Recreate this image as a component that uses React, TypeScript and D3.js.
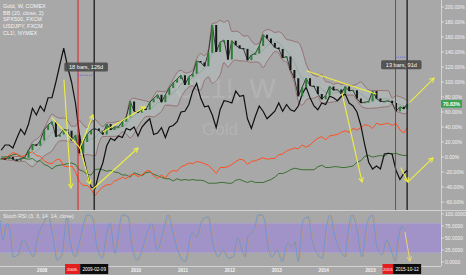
import React from "react";
import * as d3 from "d3";

const W = 466;
const H = 275;
const PANE_R = 441;
const MAIN_B = 210;
const AXIS_Y = 266;

const FIRST_MONTH = new Date(2007, 1, 1);
const END_MONTH = new Date(2015, 10, 1);

const legendLines = ["Gold, W, COMEX", "BB (20, close, 2)", "SPX500, FXCM", "USDJPY, FXCM", "CL1!, NYMEX"];

// monthly values, % change since first bar (Feb 2007 .. Oct 2015)
const goldPct = [
  -2, -3, 0, -3, -5, -2, -1, 9, 17, 15, 22,
  36, 43, 47, 27, 30, 37, 35, 22, 29, 5, 20, 30,
  36, 38, 35, 30, 44, 36, 40, 40, 47, 53, 74, 61,
  59, 64, 63, 73, 78, 83, 73, 83, 92, 99, 104, 109,
  96, 107, 111, 128, 126, 121, 139, 176, 140, 153, 156, 130,
  155, 149, 145, 144, 129, 136, 138, 148, 163, 158, 152, 146,
  144, 132, 134, 116, 105, 81, 93, 105, 95, 94, 84, 77,
  82, 94, 89, 90, 84, 94, 88, 89, 78, 72, 73, 74,
  88, 78, 74, 74, 75, 72, 61, 67, 64, 70.83,
];
const oilPct = [
  9, 16, 16, 12, 25, 37, 30, 44, 65, 56, 68,
  61, 79, 79, 100, 123, 145, 120, 100, 72, 30, 3, -22,
  -40, -42, -22, -8, 15, 25, 22, 28, 26, 38, 36, 40,
  28, 40, 46, 51, 30, 32, 39, 26, 40, 42, 47, 60,
  61, 70, 88, 98, 79, 67, 68, 56, 39, 63, 75, 74,
  72, 88, 81, 82, 51, 38, 54, 68, 61, 51, 56, 61,
  72, 61, 70, 63, 61, 68, 84, 93, 79, 68, 63, 72,
  70, 81, 79, 75, 81, 84, 72, 68, 60, 42, 16, -7,
  -16, -12, -16, 4, 5, 4, -18, -30, -22, -18,
];
const spxPct = [
  -3, -2, 2, 6, 4, 0, 2, 5, 7, 2, 1,
  -5, -8, -9, -4, -3, -12, -13, -12, -20, -33, -38, -38,
  -43, -52, -45, -40, -37, -37, -32, -30, -27, -29, -24, -23,
  -26, -24, -19, -18, -25, -29, -24, -28, -21, -18, -19, -13,
  -11, -8, -9, -6, -7, -9, -11, -16, -22, -14, -14, -13,
  -10, -6, -3, -4, -10, -6, -5, -3, -1, -3, -2, -2,
  3, 4, 8, 10, 12, 11, 16, 13, 16, 21, 25, 27,
  23, 28, 29, 30, 33, 35, 33, 38, 36, 39, 43, 42,
  38, 45, 43, 44, 45, 42, 45, 36, 32, 39,
];
const jpyPct = [
  0, 0, 1, 3, 4, 1, -2, -3, -2, -6, -5,
  -10, -12, -16, -12, -11, -10, -9, -8, -10, -17, -19, -23,
  -24, -17, -16, -17, -19, -18, -20, -21, -24, -24, -27, -21,
  -23, -25, -21, -20, -23, -25, -27, -29, -29, -32, -29, -31,
  -30, -31, -30, -31, -31, -32, -35, -35, -35, -34, -34, -35,
  -35, -31, -30, -32, -34, -32, -34, -34, -34, -32, -30, -27,
  -22, -22, -20, -17, -15, -16, -17, -17, -17, -17, -13, -11,
  -14, -14, -13, -13, -14, -14, -13, -12, -7, -5, 1, 2,
  0, 1, 2, 1, 5, 4, 5, 3, 2, 2,
];

// Stoch RSI turning points (decimal year, value)
const stochYears = [
  2007.100, 2007.164, 2007.249, 2007.313, 2007.377, 2007.484, 2007.590, 2007.697, 2007.803, 2007.910,
  2008.017, 2008.123, 2008.230, 2008.315, 2008.422, 2008.528, 2008.592, 2008.699, 2008.805, 2008.954,
  2009.061, 2009.168, 2009.274, 2009.381, 2009.445, 2009.551, 2009.700, 2009.828, 2009.914, 2010.020,
  2010.127, 2010.233, 2010.340, 2010.446, 2010.574, 2010.681, 2010.788, 2010.937, 2011.043, 2011.193,
  2011.299, 2011.406, 2011.534, 2011.640, 2011.747, 2011.853, 2011.960, 2012.066, 2012.173, 2012.258,
  2012.322, 2012.386, 2012.471, 2012.535, 2012.599, 2012.685, 2012.749, 2012.813, 2012.898, 2013.004,
  2013.111, 2013.175, 2013.239, 2013.324, 2013.388, 2013.452, 2013.559, 2013.665, 2013.750, 2013.857,
  2013.963, 2014.070, 2014.134, 2014.241, 2014.347, 2014.454, 2014.518, 2014.603, 2014.710, 2014.816,
  2014.923, 2015.029, 2015.136, 2015.242, 2015.349, 2015.456, 2015.519, 2015.583, 2015.669, 2015.733,
];
const stochK = [
  87, 46, 80, 67, 11, 15, 46, 32, 11, 53,
  80, 94, 53, 4, 18, 94, 46, 11, 46, 98,
  94, 32, 8, 60, 80, 18, 98, 94, 32, 4,
  25, 60, 80, 25, 60, 98, 60, 11, 1, 60,
  53, 87, 94, 39, 11, 25, 8, 11, 50, 25,
  11, 53, 60, 74, 98, 98, 80, 32, 11, 25,
  1, 25, 39, 32, 42, 1, 87, 94, 46, 18,
  8, 80, 98, 53, 25, 11, 60, 98, 67, 11,
  80, 98, 32, 15, 46, 18, 1, 46, 74, 67,
];

// years whose labels are visible on the time axis (2009 and 2016 sit under the date boxes)
const yearTicks = [2008, 2010, 2011, 2012, 2013, 2014, 2015];
const pctTicks = [-60, -40, -20, 0, 20, 40, 60, 80, 100, 120, 140, 160, 180, 200];
const stochTicks = [0, 25, 50, 75, 100];

const redMarkers = [
  { t: 2008.763, label: "2008-" },
  { t: 2015.531, label: "2015" },
];
const blackMarkers = [
  { t: 2009.108, label: "2009-02-09" },
  { t: 2015.778, label: "2015-10-12" },
];
const ranges = [
  { from: 2008.763, to: 2009.108, label: "18 bars, 126d", boxPct: 120, linePct: 109 },
  { from: 2015.531, to: 2015.778, label: "13 bars, 91d", boxPct: 123, linePct: 133 },
];

const mainArrows = [
  { a: [2008.464, 102.7], b: [2008.613, -41.3], head: true },
  { a: [2008.208, 52], b: [2008.805, 12], head: false },
  { a: [2008.805, 12], b: [2009.018, -36], head: true },
  { a: [2008.805, 12], b: [2009.082, 56], head: true },
  { a: [2009.082, -42.7], b: [2010.041, 12], head: true },
  { a: [2009.295, 33.3], b: [2010.191, 66.7], head: true },
  { a: [2013.644, 114.7], b: [2015.114, 84], head: false },
  { a: [2014.39, 85.3], b: [2014.816, -33.3], head: true },
  { a: [2015.839, 73.3], b: [2016.351, 105.3], head: true },
  { a: [2015.647, -14.7], b: [2015.797, -33.3], head: true },
  { a: [2015.797, -33.3], b: [2016.329, -1.3], head: true },
];
const stochArrows = [{ a: [2015.733, 62], b: [2015.839, 2], head: true }];

const FONT = "'Liberation Sans', Arial, sans-serif";

function Arrow(props: { x1: number; y1: number; x2: number; y2: number; head: boolean; color: string; w: number }) {
  const { x1, y1, x2, y2, head, color, w } = props;
  const ang = Math.atan2(y2 - y1, x2 - x1);
  const L = 4.5;
  const A = 0.5;
  const p1 = [x2 - L * Math.cos(ang - A), y2 - L * Math.sin(ang - A)];
  const p2 = [x2 - L * Math.cos(ang + A), y2 - L * Math.sin(ang + A)];
  return (
    <g stroke={color} strokeWidth={w} fill="none" strokeLinecap="round" strokeLinejoin="round">
      <line x1={x1} y1={y1} x2={x2} y2={y2} />
      {head && <polyline points={`${p1[0]},${p1[1]} ${x2},${y2} ${p2[0]},${p2[1]}`} />}
    </g>
  );
}

export default function App() {
  const months = d3.timeMonth.range(FIRST_MONTH, END_MONTH);
  const t = months.map((d) => d.getFullYear() + (d.getMonth() + 0.5) / 12);
  t[t.length - 1] = 2015.778;

  const x = d3.scaleLinear().domain([2007.1, 2016.5]).range([0, PANE_R]);
  const y = d3.scaleLinear().domain([-70.67, 209.33]).range([MAIN_B, 0]);
  const ys = d3.scaleLinear().domain([0, 100]).range([262, 214]);

  const P = 5;
  const bb = goldPct.map((_, i) => {
    const w = goldPct.slice(Math.max(0, i - P + 1), i + 1);
    const m = d3.mean(w) as number;
    const sd = Math.sqrt(d3.mean(w, (v) => (v - m) * (v - m)) as number);
    return { t: t[i], m, u: m + 2 * sd, l: m - 2 * sd };
  });

  const bbArea = d3
    .area<(typeof bb)[number]>()
    .x((d) => x(d.t))
    .y0((d) => y(d.l))
    .y1((d) => y(d.u))
    .curve(d3.curveMonotoneX);
  const bbLine = (k: "u" | "l" | "m") =>
    d3
      .line<(typeof bb)[number]>()
      .x((d) => x(d.t))
      .y((d) => y(d[k]))
      .curve(d3.curveMonotoneX)(bb) || "";

  const seriesLine = (vals: number[]) =>
    d3
      .line<number>()
      .x((_, i) => x(t[i]))
      .y((v) => y(v))(vals) || "";

  const stochLine = (shift: number) =>
    d3
      .line<number>()
      .x((_, i) => x(stochYears[i] + shift))
      .y((v) => ys(v))
      .curve(d3.curveMonotoneX)(stochK) || "";

  const candleW = 2;
  const lastGold = goldPct[goldPct.length - 1];

  return (
    <svg
      width={W}
      height={H}
      viewBox={`0 0 ${W} ${H}`}
      style={{ position: "fixed", left: 0, top: 0, display: "block" }}
      fontFamily={FONT}
    >
      <defs>
        <clipPath id="mainClip">
          <rect x={0} y={0} width={PANE_R} height={MAIN_B} />
        </clipPath>
        <clipPath id="stochClip">
          <rect x={0} y={MAIN_B + 1} width={PANE_R} height={AXIS_Y - MAIN_B - 1} />
        </clipPath>
      </defs>
      <rect x={0} y={0} width={W} height={H} fill="#a8a8a8" />

      {/* watermark */}
      <text x={225} y={98} fontSize={28} fill="#ffffff" fillOpacity={0.15} textAnchor="middle">
        CL1!, W
      </text>
      <text x={220} y={135} fontSize={17} fill="#ffffff" fillOpacity={0.15} textAnchor="middle">
        Gold
      </text>

      {/* main pane */}
      <g clipPath="url(#mainClip)">
        <path d={bbArea(bb) || ""} fill="#c2d8d4" fillOpacity={0.28} />
        <path d={bbLine("u")} fill="none" stroke="#874444" strokeWidth={0.7} strokeOpacity={0.8} />
        <path d={bbLine("l")} fill="none" stroke="#874444" strokeWidth={0.7} strokeOpacity={0.8} />
        <path d={bbLine("m")} fill="none" stroke="#6f9a84" strokeWidth={0.6} strokeOpacity={0.8} />

        <path d={seriesLine(jpyPct)} fill="none" stroke="#2f6a22" strokeWidth={0.9} />
        <path d={seriesLine(spxPct)} fill="none" stroke="#ff5020" strokeWidth={1} />
        <path d={seriesLine(oilPct)} fill="none" stroke="#101010" strokeWidth={1.2} />

        <path d={seriesLine(goldPct)} fill="none" stroke="#1c1c1c" strokeWidth={0.8} />
        {goldPct.map((c, i) => {
          const o = i > 0 ? goldPct[i - 1] : c;
          const top = y(Math.max(o, c));
          const h = Math.max(1, Math.abs(y(o) - y(c)));
          return (
            <rect
              key={i}
              x={x(t[i]) - candleW / 2}
              y={top}
              width={candleW}
              height={h}
              fill={c >= o ? "#2c7f36" : "#151515"}
            />
          );
        })}

        {redMarkers.map((m) => (
          <line key={m.label} x1={x(m.t)} x2={x(m.t)} y1={0} y2={MAIN_B} stroke="#e41e1e" strokeWidth={1} />
        ))}
        {blackMarkers.map((m) => (
          <line key={m.label} x1={x(m.t)} x2={x(m.t)} y1={0} y2={MAIN_B} stroke="#1a1a1a" strokeWidth={1.3} />
        ))}

        {mainArrows.map((a, i) => (
          <Arrow
            key={i}
            x1={x(a.a[0])}
            y1={y(a.a[1])}
            x2={x(a.b[0])}
            y2={y(a.b[1])}
            head={a.head}
            color="#eeee40"
            w={1.1}
          />
        ))}

        {ranges.map((r) => {
          const cx = (x(r.from) + x(r.to)) / 2;
          const bw = r.label.length * 3.2 + 2;
          return (
            <g key={r.label}>
              <line
                x1={x(r.from)}
                x2={x(r.to)}
                y1={y(r.linePct)}
                y2={y(r.linePct)}
                stroke="#5a5ae6"
                strokeWidth={0.8}
                strokeDasharray="1.2,1"
              />
              <rect x={cx - bw / 2} y={y(r.boxPct) - 4.5} width={bw} height={9} rx={1.5} fill="#4a4a4a" fillOpacity={0.9} />
              <text x={cx} y={y(r.boxPct) + 2} fontSize={5.6} fill="#f4f4f4" textAnchor="middle">
                {r.label}
              </text>
            </g>
          );
        })}
      </g>

      {/* legend */}
      {legendLines.map((s, i) => (
        <text key={s} x={3} y={8 + i * 6.7} fontSize={5.5} fill="#f4f4f4">
          {s}
        </text>
      ))}

      {/* stoch pane */}
      <rect x={0} y={ys(80)} width={PANE_R} height={ys(20) - ys(80)} fill="#9b7fe0" fillOpacity={0.55} />
      <line x1={0} x2={PANE_R} y1={ys(80)} y2={ys(80)} stroke="#b9a6e8" strokeWidth={0.6} strokeDasharray="1,1" />
      <line x1={0} x2={PANE_R} y1={ys(20)} y2={ys(20)} stroke="#b9a6e8" strokeWidth={0.6} strokeDasharray="1,1" />
      <g clipPath="url(#stochClip)">
        <path d={stochLine(0.03)} fill="none" stroke="#b89a80" strokeWidth={0.9} strokeOpacity={0.8} />
        <path d={stochLine(0)} fill="none" stroke="#6494d4" strokeWidth={0.9} strokeOpacity={0.85} />
        {stochArrows.map((a, i) => (
          <Arrow
            key={i}
            x1={x(a.a[0])}
            y1={ys(a.a[1])}
            x2={x(a.b[0])}
            y2={ys(a.b[1])}
            head={a.head}
            color="#ecd070"
            w={1.1}
          />
        ))}
      </g>
      <text x={3} y={218} fontSize={5.3} fill="#eeeeee">
        Stoch RSI (3, 3, 14, 14, close)
      </text>

      {/* separators and axes */}
      <line x1={0} x2={W} y1={MAIN_B + 0.5} y2={MAIN_B + 0.5} stroke="#d2d2d2" strokeWidth={1} />
      <line x1={PANE_R + 0.5} x2={PANE_R + 0.5} y1={0} y2={AXIS_Y} stroke="#d2d2d2" strokeWidth={1} />
      <line x1={0} x2={PANE_R} y1={AXIS_Y + 0.5} y2={AXIS_Y + 0.5} stroke="#d2d2d2" strokeWidth={1} />

      {pctTicks.map((v) => (
        <g key={v}>
          <line x1={PANE_R} x2={PANE_R + 3} y1={y(v)} y2={y(v)} stroke="#eeeeee" strokeWidth={0.7} />
          <text x={PANE_R + 4} y={y(v) + 1.8} fontSize={5} fill="#f2f2f2">
            {`${v.toFixed(2)}%`}
          </text>
        </g>
      ))}
      {stochTicks.map((v) => (
        <g key={v}>
          <line x1={PANE_R} x2={PANE_R + 3} y1={ys(v)} y2={ys(v)} stroke="#eeeeee" strokeWidth={0.7} />
          <text x={PANE_R + 4} y={ys(v) + 1.8} fontSize={5} fill="#f2f2f2">
            {v.toFixed(4)}
          </text>
        </g>
      ))}

      {/* last gold value */}
      <rect x={PANE_R} y={y(lastGold) - 3.8} width={21} height={7.6} fill="#37a351" />
      <text x={PANE_R + 2} y={y(lastGold) + 1.9} fontSize={5} fill="#ffffff" fontWeight="bold">
        {`${lastGold.toFixed(2)}%`}
      </text>

      {yearTicks.map((yr) => (
        <text key={yr} x={x(yr)} y={272} fontSize={4.6} fontWeight="bold" fill="#f6f6f6" textAnchor="middle">
          {yr}
        </text>
      ))}

      {redMarkers.map((m, i) => {
        const right = x(blackMarkers[i].t) - 14;
        const left = x(m.t) - 13;
        return (
          <g key={m.label}>
            <rect x={left} y={264} width={right - left} height={10} fill="#e41e1e" />
            <text x={(left + right) / 2} y={270.8} fontSize={4.4} fill="#ffffff" textAnchor="middle">
              {m.label}
            </text>
          </g>
        );
      })}
      {blackMarkers.map((m) => (
        <g key={m.label}>
          <rect x={x(m.t) - 14} y={264} width={28} height={10} fill="#0c0c0c" />
          <text x={x(m.t)} y={270.8} fontSize={4.6} fill="#ffffff" textAnchor="middle">
            {m.label}
          </text>
        </g>
      ))}
    </svg>
  );
}
